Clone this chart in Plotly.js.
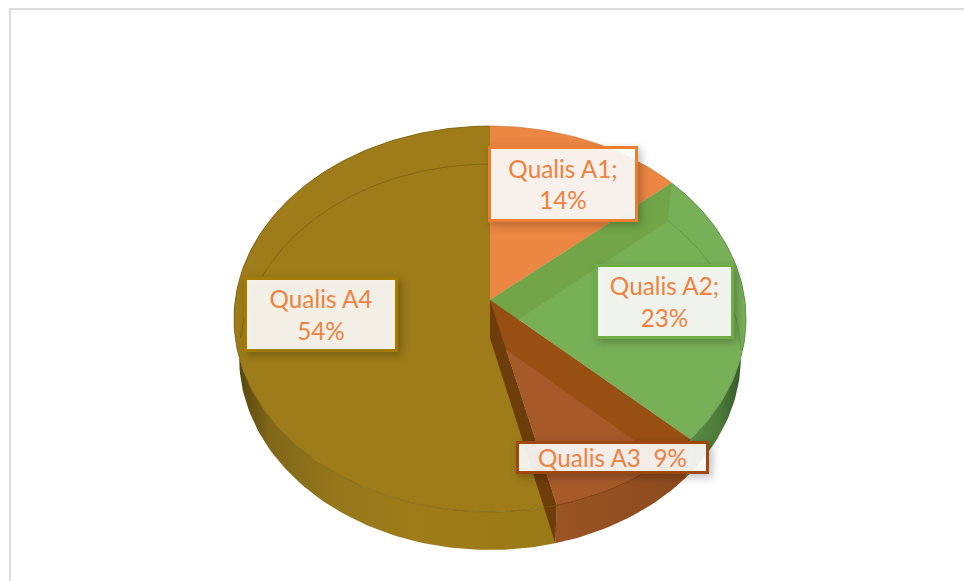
<!DOCTYPE html>
<html>
<head>
<meta charset="utf-8">
<title>Qualis</title>
<script src="https://cdn.plot.ly/plotly-3.0.1.min.js"></script>
<style>
  html, body { margin: 0; padding: 0; background: #fff; overflow: hidden; }
  #chart { width: 964px; height: 581px; }
  .annotation rect.bg { filter: drop-shadow(3px 3px 4px rgba(0, 0, 0, 0.28)); }
</style>
</head>
<body>
<div id="chart"></div>
<script>
// Chart data, the labels show these rounded
const categories = ['Qualis A1', 'Qualis A2', 'Qualis A3', 'Qualis A4'];
const shares = [13.7, 23.2, 9.3, 53.8];
const labelJoins = [';<br>', ';<br>', '\u00a0\u00a0', '<br>'];

// Colours per slice: top face, band inside the cut, rim line, label border
const faceColors = ['#ec8643', '#78b058', '#a65a2a', '#9e7c19'];
const bandColors = ['#ec8643', '#72a548', '#974f12', '#6e3d0c'];
const rimColors = ['#d07638', '#5a8a42', '#7a400f', '#75600f'];
const labelBorders = ['#ed7d31', '#70ad47', '#9e480e', '#a57c00'];
const labelColor = '#ee8240';

// Label boxes, centre and size in pixels
const labelX = [562.5, 664, 612, 320.5];
const labelY = [183.5, 301, 457.5, 314];
const labelW = [144, 133, 187, 148];
const labelH = [70, 69, 27, 69];

// Tilted disc: apex on screen and perspective of the circle
const apexX = 490, apexY = 300;
const scaleX = 254.8, scaleY = 191.1, persp = 0.0984;
const depth = 38, floorScale = 0.98;

// angle in percent clockwise from 12 o'clock, onto the top face
function rim(pct) {
  const t = pct / 100 * 2 * Math.PI;
  const u = Math.sin(t), v = Math.cos(t);
  const d = 1 + persp * v;
  return [apexX + scaleX * u / d, apexY - scaleY * v / d];
}

// same point on the bottom face
function drop(p) {
  return [apexX + (p[0] - apexX) * floorScale, p[1] + depth];
}

function arc(from, to) {
  const pts = [];
  const n = Math.max(2, Math.ceil((to - from) * 3));
  for (let i = 0; i <= n; i++) pts.push(rim(from + (to - from) * i / n));
  return pts;
}

function poly(pts, color, extra) {
  return Object.assign({
    x: pts.map(p => p[0]).concat(pts[0][0]),
    y: pts.map(p => p[1]).concat(pts[0][1]),
    mode: 'lines', type: 'scatter', fill: 'toself', fillcolor: color,
    line: { width: 0 }, hoverinfo: 'skip'
  }, extra || {});
}

function stroke(pts, color, width) {
  return {
    x: pts.map(p => p[0]), y: pts.map(p => p[1]),
    mode: 'lines', type: 'scatter', line: { color: color, width: width }, hoverinfo: 'skip'
  };
}

const apex = [apexX, apexY];
const starts = [], ends = [];
shares.reduce((sum, s) => { starts.push(sum); ends.push(sum + s); return sum + s; }, 0);

function wall(i, stops, x0, x1) {
  const a = arc(starts[i], ends[i]);
  return poly(a.concat(a.slice().reverse().map(drop)), '#000', {
    fillgradient: { type: 'horizontal', colorscale: stops, start: x0, stop: x1 }
  });
}

const a1End = rim(ends[0]), a2End = rim(ends[1]), a3End = rim(ends[2]);

const traces = [
  // outer walls
  wall(3, [[0, '#57460f'], [0.1, '#806719'], [0.3, '#95761b'], [0.55, '#9e7c19'], [1, '#9a7917']], 239, 555),
  wall(2, [[0, '#9a5424'], [1, '#8c4a1e']], 555, 690),
  wall(1, [[0, '#5f9048'], [0.6, '#4c7a38'], [1, '#33592a']], 685, 742),
  // top faces
  poly([apex].concat(arc(starts[3], ends[3])), faceColors[3]),
  poly([apex].concat(arc(starts[0], ends[0])), faceColors[0]),
  poly([apex].concat(arc(starts[1], ends[1])), faceColors[1]),
  // inner wall seen through the green slice
  poly([apex, a1End, drop(a1End), drop(apex)], bandColors[1]),
  poly([apex].concat(arc(starts[2], ends[2])), faceColors[2]),
  // inner wall seen through the brown slice
  poly([apex, a2End, drop(a2End), drop(apex)], bandColors[2]),
  // cut between brown and gold
  poly([apex, a3End, drop(a3End), drop(apex)], bandColors[3]),
  // rim lines
  stroke(arc(starts[3], ends[3]), rimColors[3], 0.7),
  stroke(arc(starts[0], ends[0]), rimColors[0], 0.7),
  stroke(arc(starts[1], ends[1]), rimColors[1], 0.7),
  stroke(arc(starts[2], ends[2]), rimColors[2], 1),
  // back edge of the bottom face, faint through the top
  stroke(arc(75, 100).map(drop), 'rgba(85,65,10,0.45)', 0.8),
  stroke(arc(ends[0], 26).map(drop), 'rgba(80,130,60,0.6)', 0.8)
];

const annotations = categories.map((name, i) => ({
  x: labelX[i], y: labelY[i], xref: 'x', yref: 'y',
  text: name + labelJoins[i] + Math.round(shares[i]) + '%',
  showarrow: false, align: 'center', valign: 'middle',
  width: labelW[i], height: labelH[i], borderpad: 0,
  bgcolor: 'rgba(255,255,255,0.9)',
  bordercolor: labelBorders[i], borderwidth: 3,
  font: { family: 'Lato, "Open Sans", sans-serif', size: 24.3, color: labelColor }
}));

const frame = { color: '#dcdcdc', width: 2 };
const layout = {
  width: 964, height: 581,
  margin: { l: 0, r: 0, t: 0, b: 0 },
  paper_bgcolor: '#fff', plot_bgcolor: '#fff',
  showlegend: false, hovermode: false,
  xaxis: { range: [0, 964], visible: false, fixedrange: true },
  yaxis: { range: [581, 0], visible: false, fixedrange: true },
  annotations: annotations,
  shapes: [
    { type: 'line', xref: 'paper', yref: 'paper', x0: 10 / 964, x1: 10 / 964, y0: 0, y1: 1 - 9 / 581, line: frame },
    { type: 'line', xref: 'paper', yref: 'paper', x0: 9 / 964, x1: 1, y0: 1 - 9 / 581, y1: 1 - 9 / 581, line: frame }
  ]
};

Plotly.newPlot('chart', traces, layout, { staticPlot: true, displayModeBar: false });
</script>
</body>
</html>
